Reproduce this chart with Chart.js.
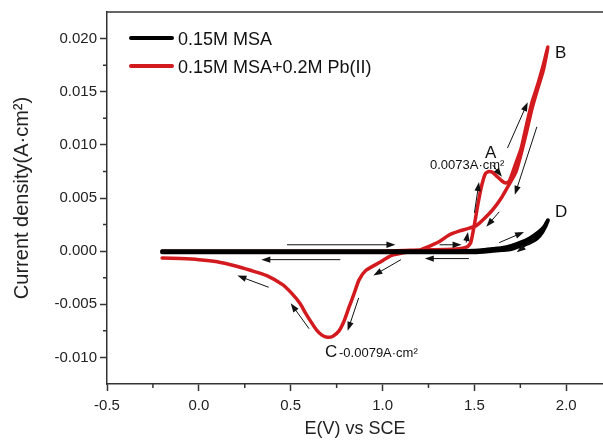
<!DOCTYPE html>
<html>
<head>
<meta charset="utf-8">
<script src="https://cdn.jsdelivr.net/npm/chart.js@4.4.1/dist/chart.umd.min.js"></script>
<style>
  html, body { margin: 0; padding: 0; background: #fff; }
</style>
</head>
<body>
<canvas id="cv" width="603" height="440"></canvas>
<script>
// 0.15M MSA : forward sweep then reverse sweep
const msaE = [-0.2, 0.2, 0.6, 1.0, 1.4, 1.5, 1.55, 1.6, 1.65, 1.7, 1.75, 1.8, 1.85, 1.88, 1.9,
              1.87, 1.84, 1.8, 1.75, 1.7, 1.65, 1.6, 1.5, 1.0, 0.5, -0.2];
const msaJ = [0, 0, 0, 0, 0, 0.00004, 0.0001, 0.0002, 0.0003, 0.0005, 0.0008, 0.0012, 0.0018, 0.0023, 0.0029,
              0.0018, 0.0012, 0.0008, 0.0005, 0.0002, 0.0001, 0.00003, -0.0001, -0.0001, -0.0001, -0.0001];

// 0.15M MSA + 0.2M Pb(II) : forward sweep then reverse sweep
const pbE = [-0.2, 0.5, 1.0, 1.2, 1.4, 1.46, 1.48, 1.5, 1.52, 1.54, 1.56, 1.58, 1.6, 1.625, 1.65, 1.67, 1.69,
             1.72, 1.755, 1.785, 1.815, 1.845, 1.87, 1.9,
             1.875, 1.845, 1.815, 1.785, 1.755, 1.725, 1.69, 1.65, 1.6, 1.55, 1.51, 1.46, 1.42, 1.36, 1.31, 1.26,
             1.2, 1.13, 1.05, 0.98, 0.91, 0.872, 0.845, 0.817, 0.79, 0.763, 0.73, 0.7, 0.67, 0.64, 0.616,
             0.58, 0.55, 0.507, 0.46, 0.37, 0.28, 0.2, 0.1, 0.0, -0.1, -0.2];
const pbJ = [0, 0, 0, 0.0001, 0.0002, 0.0004, 0.0008, 0.0025, 0.0045, 0.0062, 0.0073, 0.0075, 0.0074, 0.0070, 0.0066, 0.0064, 0.0066,
             0.0080, 0.0097, 0.0120, 0.0141, 0.0157, 0.0172, 0.0192,
             0.0170, 0.0153, 0.0135, 0.0113, 0.0092, 0.0074, 0.0063, 0.0051, 0.0039, 0.0030, 0.0024, 0.0021, 0.0019, 0.0015, 0.0009, 0.0005,
             0.0001, -0.0001, -0.0004, -0.0011, -0.0018, -0.0027, -0.0040, -0.0053, -0.0066, -0.0075, -0.0080, -0.0081, -0.0079, -0.0074, -0.0068,
             -0.0058, -0.0049, -0.0040, -0.0032, -0.0023, -0.0018, -0.0014, -0.0010, -0.0008, -0.0007, -0.00065];

const seriesNames = ['0.15M MSA', '0.15M MSA+0.2M Pb(II)'];
const seriesColors = ['#000000', '#d21a1f'];

const xTicks = [-0.5, 0.0, 0.5, 1.0, 1.5, 2.0];
const yTicks = [-0.010, -0.005, 0.000, 0.005, 0.010, 0.015, 0.020];

// sweep direction arrows, [E from, J from, E to, J to]
const arrows = [
  [0.48, 0.0006, 1.07, 0.0006],
  [0.77, -0.0008, 0.34, -0.0008],
  [1.31, 0.0006, 1.43, 0.0006],
  [1.47, -0.0007, 1.23, -0.0007],
  [1.10, -0.0008, 0.95, -0.0023],
  [0.87, -0.0044, 0.81, -0.0075],
  [0.60, -0.0073, 0.50, -0.0049],
  [0.38, -0.0034, 0.21, -0.0023],
  [1.50, 0.0036, 1.525, 0.0065],
  [1.455, 0.0008, 1.465, 0.0018],
  [1.60, 0.0081, 1.65, 0.0070],
  [1.68, 0.0097, 1.79, 0.0140],
  [1.84, 0.0117, 1.72, 0.0053],
  [1.635, 0.0037, 1.565, 0.0023],
  [1.635, 0.0008, 1.77, 0.0018],
  [1.835, 0.0012, 1.73, -0.0001]
];

// peak labels, [text, E, J, font size]
const notes = [
  ['A', 1.558, 0.00875, 17],
  ['0.0073A·cm²', 1.258, 0.0077, 13],
  ['B', 1.939, 0.01815, 17],
  ['D', 1.939, 0.0032, 17],
  ['C', 0.687, -0.00997, 17],
  ['-0.0079A·cm²', 0.763, -0.00997, 13]
];

const FONT = "'Liberation Sans', Arial, sans-serif";

const toPoints = (xs, ys) => xs.map((v, i) => ({ x: v, y: ys[i] }));

const extras = {
  id: 'extras',
  afterDraw(chart) {
    const { ctx, chartArea: a, scales: { x, y } } = chart;
    ctx.save();

    // top frame line
    ctx.strokeStyle = '#333';
    ctx.lineWidth = 1.5;
    ctx.beginPath();
    ctx.moveTo(a.left, a.top);
    ctx.lineTo(a.right, a.top);
    ctx.stroke();

    // minor ticks
    ctx.beginPath();
    for (let i = 0; i < xTicks.length; i++) {
      [xTicks[i] - 0.25, xTicks[i] + 0.25].forEach(v => {
        if (v > x.min && v < x.max) {
          const px = x.getPixelForValue(v);
          ctx.moveTo(px, a.bottom);
          ctx.lineTo(px, a.bottom + 4);
        }
      });
    }
    for (let i = 0; i < yTicks.length; i++) {
      [yTicks[i] - 0.0025, yTicks[i] + 0.0025].forEach(v => {
        if (v > y.min + 1e-9 && v < y.max - 1e-9) {
          const py = y.getPixelForValue(v);
          ctx.moveTo(a.left, py);
          ctx.lineTo(a.left - 4, py);
        }
      });
    }
    ctx.stroke();

    // arrows
    ctx.strokeStyle = '#111';
    ctx.fillStyle = '#111';
    ctx.lineWidth = 1;
    arrows.forEach(([e0, j0, e1, j1]) => {
      const x0 = x.getPixelForValue(e0), y0 = y.getPixelForValue(j0);
      const x1 = x.getPixelForValue(e1), y1 = y.getPixelForValue(j1);
      const ang = Math.atan2(y1 - y0, x1 - x0);
      const L = 9, W = 3.2;
      ctx.beginPath();
      ctx.moveTo(x0, y0);
      ctx.lineTo(x1 - Math.cos(ang) * L * 0.8, y1 - Math.sin(ang) * L * 0.8);
      ctx.stroke();
      ctx.beginPath();
      ctx.moveTo(x1, y1);
      ctx.lineTo(x1 - Math.cos(ang) * L - Math.sin(ang) * W, y1 - Math.sin(ang) * L + Math.cos(ang) * W);
      ctx.lineTo(x1 - Math.cos(ang) * L + Math.sin(ang) * W, y1 - Math.sin(ang) * L - Math.cos(ang) * W);
      ctx.closePath();
      ctx.fill();
    });

    // peak labels
    ctx.fillStyle = '#111';
    ctx.textAlign = 'left';
    ctx.textBaseline = 'alphabetic';
    notes.forEach(([t, e, j, size]) => {
      ctx.font = size + 'px ' + FONT;
      ctx.fillText(t, x.getPixelForValue(e), y.getPixelForValue(j));
    });

    // legend
    const rows = [38, 66];
    chart.data.datasets.forEach((ds, i) => {
      ctx.strokeStyle = ds.borderColor;
      ctx.lineWidth = 4;
      ctx.lineCap = 'round';
      ctx.beginPath();
      ctx.moveTo(131, rows[i]);
      ctx.lineTo(172, rows[i]);
      ctx.stroke();
      ctx.fillStyle = '#111';
      ctx.font = '18px ' + FONT;
      ctx.textBaseline = 'middle';
      ctx.fillText(ds.label, 178, rows[i] + 2);
    });

    ctx.restore();
  }
};

new Chart(document.getElementById('cv'), {
  type: 'line',
  data: {
    datasets: [
      {
        label: seriesNames[0],
        data: toPoints(msaE, msaJ),
        borderColor: seriesColors[0],
        borderWidth: 4,
        borderCapStyle: 'round',
        borderJoinStyle: 'round',
        pointRadius: 0,
        tension: 0.2
      },
      {
        label: seriesNames[1],
        data: toPoints(pbE, pbJ),
        borderColor: seriesColors[1],
        borderWidth: 3.5,
        borderCapStyle: 'round',
        borderJoinStyle: 'round',
        pointRadius: 0,
        tension: 0.2
      }
    ]
  },
  options: {
    responsive: false,
    animation: false,
    layout: { padding: { top: 12, right: 0, left: 0, bottom: 0 } },
    plugins: { legend: { display: false }, tooltip: { enabled: false } },
    scales: {
      x: {
        type: 'linear',
        min: -0.5,
        max: 2.2,
        afterBuildTicks: s => { s.ticks = xTicks.map(v => ({ value: v })); },
        afterFit: s => { s.height = 56; },
        ticks: {
          callback: v => v.toFixed(1),
          color: '#222',
          padding: 6,
          maxRotation: 0,
          font: { family: FONT, size: 15 }
        },
        grid: { drawOnChartArea: false, drawTicks: true, tickLength: 7, tickColor: '#333', tickWidth: 1.5 },
        border: { display: true, color: '#333', width: 1.5 },
        title: {
          display: true,
          text: 'E(V) vs SCE',
          color: '#222',
          font: { family: FONT, size: 18 },
          padding: { top: 0, bottom: 0 }
        }
      },
      y: {
        type: 'linear',
        min: -0.0125,
        max: 0.0225,
        afterBuildTicks: s => { s.ticks = yTicks.map(v => ({ value: v })); },
        afterFit: s => { s.width = 107; },
        ticks: {
          callback: v => v.toFixed(3),
          color: '#222',
          padding: 3,
          font: { family: FONT, size: 15 }
        },
        grid: { drawOnChartArea: false, drawTicks: true, tickLength: 7, tickColor: '#333', tickWidth: 1.5 },
        border: { display: true, color: '#333', width: 1.5 },
        title: {
          display: true,
          text: 'Current density(A·cm²)',
          color: '#222',
          font: { family: FONT, size: 20 },
          padding: { top: 10, bottom: 0 }
        }
      }
    }
  },
  plugins: [extras]
});
</script>
</body>
</html>
